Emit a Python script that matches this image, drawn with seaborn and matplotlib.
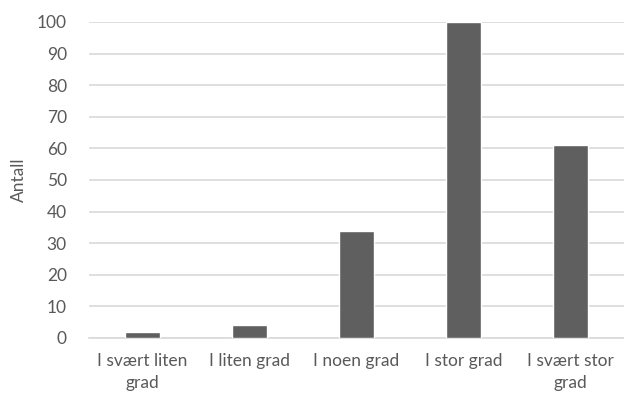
import matplotlib
matplotlib.use("Agg")
import matplotlib.pyplot as plt
import seaborn as sns
import pandas as pd

categories = ["I svært liten\ngrad", "I liten grad", "I noen grad", "I stor grad", "I svært stor\ngrad"]
counts = [2, 4, 34, 100, 61]
y_ticks = [0, 10, 20, 30, 40, 50, 60, 70, 80, 90, 100]

sns.set_theme(style="white")
plt.rcParams["font.family"] = ["Lato", "DejaVu Sans"]

text_color = "#595959"
grid_color = "#d9d9d9"
bar_color = "#5f5f5f"

df = pd.DataFrame({"kategori": categories, "antall": counts})

fig = plt.figure(figsize=(6.24, 3.94), dpi=100)
ax = fig.add_axes([89 / 624, 1 - 338 / 394, 535 / 624, (338 - 22) / 394])

sns.barplot(data=df, x="kategori", y="antall", color=bar_color, saturation=1,
            width=0.32, ax=ax, zorder=3)

ax.set_ylim(0, 100)
ax.set_xlim(-0.5, 4.5)
ax.set_yticks(y_ticks)
ax.set_yticklabels([str(t) for t in y_ticks])
ax.yaxis.grid(True, color=grid_color, linewidth=1.2, zorder=0)
ax.set_axisbelow(True)

for side in ["top", "right", "left"]:
    ax.spines[side].set_visible(False)
ax.spines["bottom"].set_color(grid_color)
ax.spines["bottom"].set_linewidth(1.2)

ax.tick_params(axis="y", length=0, pad=16, labelsize=12.5, labelcolor=text_color)
ax.tick_params(axis="x", length=0, pad=11, labelsize=12.5, labelcolor=text_color)
for lbl in ax.get_xticklabels():
    lbl.set_linespacing(1.45)

ax.set_xlabel("")
ax.set_ylabel("Antall", fontsize=12.5, color=text_color)
ax.yaxis.set_label_coords((27 - 89) / 535, 0.5)

fig.savefig("out.png", dpi=100)
